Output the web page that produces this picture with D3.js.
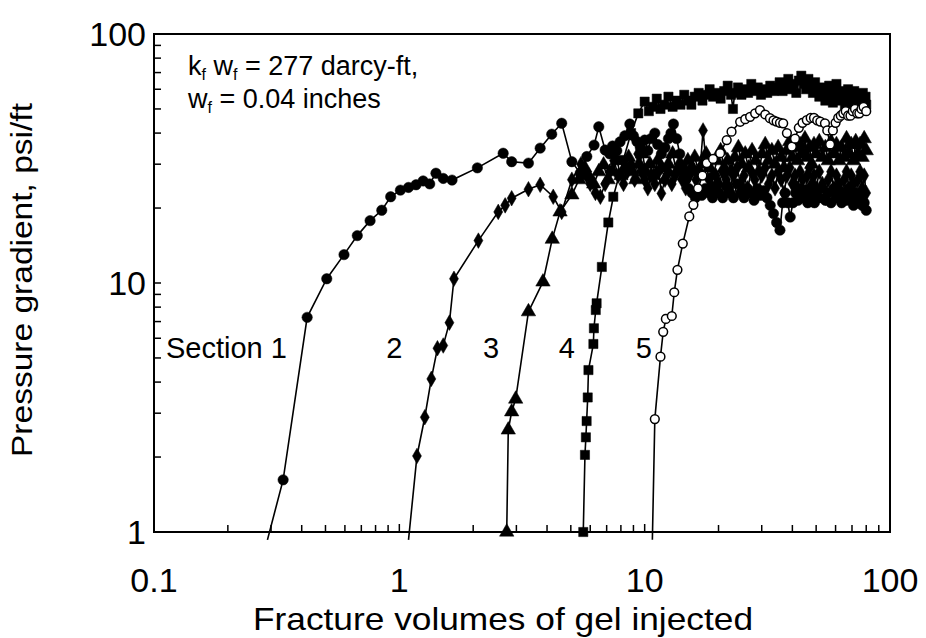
<!DOCTYPE html>
<html>
<head>
<meta charset="utf-8">
<script src="https://cdn.jsdelivr.net/npm/d3@7"></script>
<style>
  body { margin: 0; background: #fff; }
  text { font-family: "Liberation Sans", Arial, sans-serif; fill: #000; }
</style>
</head>
<body>
<div id="chart"></div>
<script>
var width = 926, height = 638;

// tick labels
var xTicks = [0.1, 1, 10, 100];
var yTicks = [1, 10, 100];

// section 1 - filled circles  [fracture volumes, psi/ft]
var sec1 = [[0.29,0.93],[0.336,1.62],[0.421,7.28],[0.506,10.4],[0.595,13.0],[0.674,15.5],[0.760,17.8],
  [0.848,19.6],[0.922,22.2],[1.01,23.6],[1.09,24.2],[1.17,24.8],[1.25,25.7],[1.33,25.0],[1.41,27.6],
  [1.51,26.3],[1.64,25.9],[2.08,29.0],[2.65,33.2],[2.87,30.7],[3.36,30.3],[3.75,34.8],[4.18,39.6],
  [4.59,43.8],[5.05,30.7],[5.46,27.6],[5.81,32.2],[6.22,35.8],[6.5,42.4],[6.9,34.2],[7.2,33],
  [7.4,35.5],[7.7,34],[7.94,36.9],[8.3,39],[8.7,43.5],[9.0,39],[9.3,37],[9.6,35],[10,37.5],
  [10.3,34],[10.6,38],[11,40],[11.3,36],[11.7,33],[12.1,35],[12.5,38],[12.8,40],[13.1,43.5],
  [13.5,38],[13.9,33],[14.3,29],[14.7,26],[15.1,24],[15.6,23],[16.1,22],[16.6,23.5],[17.1,22.5],
  [17.7,24],[18.3,23],[18.9,22],[19.5,24.5],[20.1,23],[20.8,22],[21.5,24.5],[22.2,23],[23,22],
  [23.8,25],[24.6,23],[25.4,22],[26.2,24],[27,23],[27.9,21.5],[28.8,24],[29.7,22.5],[30.6,23.5],
  [31.5,22],[32.5,20.5],[33.5,19],[34.5,17.5],[35.6,16.3],[36.5,21],[37.4,23],[38.3,21],[39.2,18.4],
  [40.2,21],[41.2,23],[42.2,21.5],[43.2,24],[44.2,22],[45.2,23.5],[46.2,21],[47.2,24],[48.2,22.5],
  [49.2,21],[50.2,23.5],[51.5,22],[53,24],[54.5,21.5],[56,23],[57.5,21],[59,24],[60.5,22],
  [62,23.5],[63.5,21],[65,23],[66.5,21.5],[68,24],[69.5,22],[71,20.5],[72.5,23],[74,21],
  [75.5,22.5],[77,20.5],[78.5,21],[80,19.6]];

// section 2 - diamonds
var sec2 = [[1.09,0.93],[1.18,2.02],[1.27,2.89],[1.35,4.12],[1.43,5.47],[1.51,5.61],[1.60,6.93],
  [1.67,10.4],[2.10,14.8],[2.53,19.3],[2.70,20.5],[2.87,21.9],[3.36,23.8],[3.75,24.8],[4.24,22.2],
  [4.59,19.3],[5.05,26.0],[5.5,30],[5.8,27],[6.0,25],[6.3,23],[6.6,22.2],[6.9,25],[7.2,28],[7.5,31],
  [7.8,27],[8.2,25],[8.5,28],[8.8,30],[9.1,26],[9.4,33],[9.7,28],[10,26],[10.3,24],[10.6,27],
  [11,25],[11.4,28],[11.7,22.9],[12.1,26],[12.5,28],[12.9,25],[13.3,27],[13.8,30],[14.2,26],
  [14.7,24],[15.2,27],[15.7,29],[16.2,26],[16.8,28],[17.3,41],[17.8,30],[18.3,26],[18.9,24],
  [19.5,27],[20.1,25],[20.8,28],[21.5,26],[22.2,24],[23,27],[23.8,29],[24.6,25],[25.4,27],
  [26.3,24],[27.2,28],[28.1,26],[29,23],[30,27],[31,29],[32,25],[33,27],[34,24],[35,28],[36,26],
  [37,23],[38,27],[39,29],[40,25],[41,27],[42,24],[43,28],[44,26],[45,23],[46,27],[47,29],[48,25],
  [49,27],[50,24],[51.5,28],[53,25],[54.5,22],[56,26],[57.5,28],[59,24],[60.5,27],[62,25],
  [63.5,22],[65,26],[66.5,28],[68,24],[69.5,27],[71,25],[72.5,22],[74,26],[75.5,28],[77,24],
  [78.5,27],[80,23]];

// section 3 - triangles
var sec3 = [[2.74,1.0],[2.78,2.57],[2.87,3.04],[2.98,3.42],[3.36,7.67],[3.85,10.1],[4.2,15.0],
  [4.52,19.3],[5.05,22.6],[5.4,26],[5.7,29],[5.9,27],[6.2,25],[6.5,28],[6.8,29.8],[7.1,26],
  [7.4,28],[7.7,31],[8.0,27],[8.3,29],[8.6,32],[8.9,28],[9.2,26],[9.5,30],[9.8,33],[10.1,28],
  [10.5,30],[10.9,27],[11.3,31],[11.7,29],[12.1,26],[12.5,30],[13,33],[13.5,28],[14,30],[14.5,27],
  [15,31],[15.5,29],[16,32],[16.6,28],[17.2,30],[17.8,33],[18.4,29],[19,27],[19.7,31],[20.4,34],
  [21.1,29],[21.8,31],[22.5,28],[23.3,32],[24.1,35],[24.9,30],[25.7,33],[26.5,29],[27.4,34],
  [28.3,31],[29.2,28],[30.1,33],[31,36],[32,31],[33,34],[34,30],[35,35],[36,32],[37,29],[38,34],
  [39,37],[40,32],[41,35],[42,31],[43,36],[44,33],[45,38],[46,32],[47,35],[48,30],[49,36],[50,33],
  [51.5,37],[53,32],[54.5,35],[56,31],[57.5,37],[59,33],[60.5,36],[62,31],[63.5,35],[65,32],
  [66.5,38],[68,33],[69.5,36],[71,31],[72.5,37],[74,33],[75.5,36],[77,32],[78.5,38],[80,34]];

// section 4 - filled squares
var sec4 = [[5.62,1.0],[5.71,2.04],[5.76,2.40],[5.80,2.79],[5.86,3.47],[5.90,4.47],[6.18,5.69],
  [6.21,6.58],[6.32,7.79],[6.37,8.29],[6.69,11.6],[7.11,17.5],[7.45,22.2],[8.18,31.2],[8.8,40],
  [9.42,48],[10.0,53.5],[10.4,49],[10.8,51],[11.2,55],[11.6,50],[12.0,52],[12.5,56],[13,51],
  [13.5,54],[14,52],[14.5,57],[15,54],[15.5,52],[16,56],[16.6,58],[17.2,54],[17.8,57],[18.4,60],
  [19,56],[19.7,58],[20.4,55],[21.1,59],[21.8,62],[22.5,57],[22.9,50],[23.3,58],[24,61],[24.8,57],
  [25.6,60],[26.4,58],[27.2,63],[28,59],[28.9,61],[29.8,57],[30.7,60],[31.6,58],[32.5,62],
  [33.5,59],[34.5,61],[35.5,64],[36.5,59],[37.5,62],[38.5,66],[39.5,60],[40.5,63],[41.5,58],
  [42.5,65],[43.5,68],[44.5,63],[45.5,60],[46.5,66],[47.5,62],[48.5,58],[49.5,64],[50.5,60],
  [51.5,56],[52.5,61],[53.5,58],[54.5,54],[55.5,59],[56.5,62],[57.5,57],[58.5,53],[59.5,60],
  [60.5,63],[61.5,57],[62.5,54],[63.5,59],[64.5,56],[65.5,52],[66.5,57],[67.5,60],[68.5,55],
  [69.5,52],[70.5,56],[71.5,59],[72.5,54],[73.5,51],[74.5,57],[75.5,55],[76.5,52],[77.5,58],
  [78.5,54],[79.5,56],[80,52]];

// section 5 - open circles
var sec5 = [[10.75,0.93],[11.0,2.84],[11.6,5.06],[11.9,6.37],[12.2,7.17],[12.9,7.37],[13.2,9.18],
  [13.6,11.3],[14.3,14.4],[15.2,18.5],[15.8,20.6],[16.5,24],[17.2,27],[17.9,30.3],[19,31.5],
  [20.3,33.2],[21.6,37.5],[22.6,40.5],[24.5,44.4],[25.7,45.5],[26.9,46.5],[28.2,48],[29.5,49.5],
  [31,47.5],[32.4,45.9],[33.5,45],[34.5,44.5],[35.6,44],[36.7,43.8],[38,40],[39.8,35.3],[41,38],
  [42.5,42],[44,44],[45.8,45.1],[47.5,46],[49,46],[50.5,45],[52,44.5],[54.3,43.8],[55.5,41],
  [57,36],[58.5,41],[60,44],[61.5,46],[63,47],[64.5,48],[66,49],[67.5,47],[69,47],[70.5,49],
  [72,50],[73.5,48],[75,48],[76.5,50],[78,51],[80,49]];

// section labels
var labels = ["Section 1", "2", "3", "4", "5"];
var labelPos = [[0.348, 5.0], [1.03, 5.0], [2.55, 5.0], [5.2, 5.0], [10.7, 5.0]];

var svg = d3.select("#chart").append("svg")
    .attr("width", width)
    .attr("height", height);

var x = d3.scaleLog().domain([0.1, 100]).range([154, 890]);
var y = d3.scaleLog().domain([1, 100]).range([532, 34]);

svg.append("clipPath").attr("id", "clip")
  .append("rect").attr("x", 150).attr("y", 30).attr("width", 745).attr("height", 512);

// minor ticks, pointing inward
var xMinor = [], yMinor = [];
[0.1, 1, 10].forEach(function(d) { for (var k = 2; k < 10; k++) xMinor.push(d * k); });
[1, 10].forEach(function(d) { for (var k = 2; k < 10; k++) yMinor.push(d * k); });

svg.append("g").selectAll("line").data(xMinor).enter().append("line")
    .attr("x1", function(d) { return x(d); }).attr("x2", function(d) { return x(d); })
    .attr("y1", 532).attr("y2", 525)
    .attr("stroke", "#000").attr("stroke-width", 1.5);
svg.append("g").selectAll("line").data([1, 10]).enter().append("line")
    .attr("x1", function(d) { return x(d); }).attr("x2", function(d) { return x(d); })
    .attr("y1", 532).attr("y2", 524)
    .attr("stroke", "#000").attr("stroke-width", 1.5);
svg.append("g").selectAll("line").data(yMinor).enter().append("line")
    .attr("y1", function(d) { return y(d); }).attr("y2", function(d) { return y(d); })
    .attr("x1", 154).attr("x2", 161)
    .attr("stroke", "#000").attr("stroke-width", 1.5);
svg.append("line").attr("y1", y(10)).attr("y2", y(10)).attr("x1", 154).attr("x2", 161)
    .attr("stroke", "#000").attr("stroke-width", 1.5);

// frame
svg.append("rect").attr("x", 154).attr("y", 34).attr("width", 736).attr("height", 498)
    .attr("fill", "none").attr("stroke", "#000").attr("stroke-width", 2);

// tick labels
svg.append("g").selectAll("text").data(xTicks).enter().append("text")
    .attr("x", function(d) { return x(d); }).attr("y", 592)
    .attr("text-anchor", "middle").attr("font-size", 34)
    .text(function(d) { return d; });
svg.append("g").selectAll("text").data(yTicks).enter().append("text")
    .attr("x", 146).attr("y", function(d) { return y(d) + 12; })
    .attr("text-anchor", "end").attr("font-size", 34)
    .text(function(d) { return d; });

// axis titles
svg.append("text").attr("x", 503).attr("y", 630).attr("text-anchor", "middle")
    .attr("font-size", 32).attr("textLength", 500).attr("lengthAdjust", "spacingAndGlyphs")
    .text("Fracture volumes of gel injected");
svg.append("text").attr("transform", "translate(32,280) rotate(-90)")
    .attr("text-anchor", "middle").attr("font-size", 29)
    .attr("textLength", 354).attr("lengthAdjust", "spacingAndGlyphs")
    .text("Pressure gradient, psi/ft");

// annotation
var ann = svg.append("text").attr("x", 188).attr("y", 75).attr("font-size", 27);
ann.append("tspan").text("k");
ann.append("tspan").attr("font-size", 16).attr("dy", 5).text("f");
ann.append("tspan").attr("dy", -5).text(" w");
ann.append("tspan").attr("font-size", 16).attr("dy", 5).text("f");
ann.append("tspan").attr("dy", -5).text(" = 277 darcy-ft,");
var ann2 = svg.append("text").attr("x", 188).attr("y", 108).attr("font-size", 27);
ann2.append("tspan").text("w");
ann2.append("tspan").attr("font-size", 16).attr("dy", 5).text("f");
ann2.append("tspan").attr("dy", -5).text(" = 0.04 inches");

// curves
var line = d3.line().x(function(d) { return x(d[0]); }).y(function(d) { return y(d[1]); });
var plot = svg.append("g").attr("clip-path", "url(#clip)");

var series = [
  { data: sec1, shape: d3.symbolCircle, size: 85, fill: "#000" },
  { data: sec2, shape: d3.symbolDiamond, size: 70, fill: "#000" },
  { data: sec3, shape: d3.symbolTriangle, size: 90, fill: "#000" },
  { data: sec4, shape: d3.symbolSquare, size: 85, fill: "#000" },
  { data: sec5, shape: d3.symbolCircle, size: 60, fill: "#fff" }
];

series.forEach(function(s) {
  plot.append("path").datum(s.data)
      .attr("d", line).attr("fill", "none")
      .attr("stroke", "#000").attr("stroke-width", 1.6);
});
series.forEach(function(s) {
  plot.append("g").selectAll("path")
      .data(s.data.filter(function(d) { return d[1] >= 1; }))
      .enter().append("path")
      .attr("transform", function(d) { return "translate(" + x(d[0]) + "," + y(d[1]) + ")"; })
      .attr("d", d3.symbol().type(s.shape).size(s.size))
      .attr("fill", s.fill)
      .attr("stroke", "#000").attr("stroke-width", s.fill == "#fff" ? 1.5 : 0.5);
});

// section labels
svg.append("g").selectAll("text").data(labels).enter().append("text")
    .attr("x", function(d, i) { return x(labelPos[i][0]); })
    .attr("y", function(d, i) { return y(labelPos[i][1]); })
    .attr("text-anchor", "end").attr("font-size", 29)
    .text(function(d) { return d; });
</script>
</body>
</html>
